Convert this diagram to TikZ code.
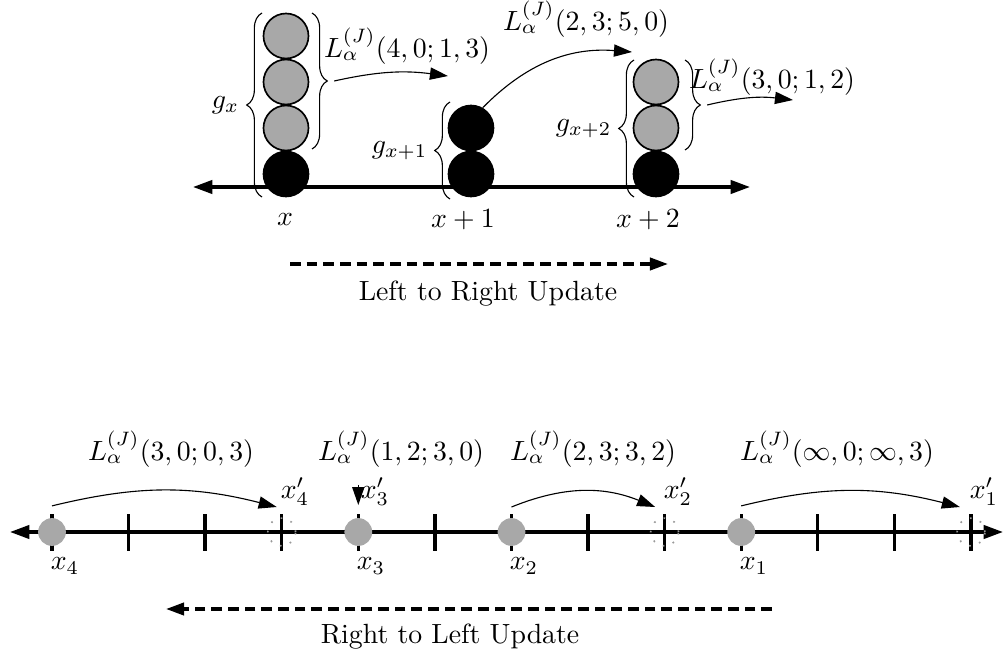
\documentclass[tikz,border=0pt]{standalone}
\usepackage{amsmath,amssymb}
\usetikzlibrary{arrows.meta, decorations.pathreplacing}

\begin{document}
\begin{tikzpicture}[
  x=0.36pt, y=-0.36pt,
  >={Triangle[length=6.5pt, width=4.4pt]},
  blk/.style={circle, draw=black, line width=0.6pt, fill=black, minimum size=16.2pt, inner sep=0pt},
  gry/.style={circle, draw=black, line width=0.6pt, fill=black!34, minimum size=16.2pt, inner sep=0pt},
  dot/.style={circle, fill=black!34, minimum size=10pt, inner sep=0pt},
  ghost/.style={circle, draw=black!40, line width=0.6pt, dash pattern=on 0.6pt off 3.2pt, minimum size=10pt, inner sep=0pt},
  axis/.style={{Triangle[length=7pt, width=4.8pt]}-{Triangle[length=7pt, width=4.8pt]}, line width=1.2pt},
  tck/.style={line width=1.2pt},
  brc/.style={decorate, decoration={brace, amplitude=5.5pt}, thin},
  crv/.style={->, thin},
  upd/.style={->, line width=1.2pt, dash pattern=on 3.8pt off 2.2pt},
  lbl/.style={inner sep=1pt},
]

\useasboundingbox (0,0) rectangle (1005,654);

% === Top: Left to Right Update ===

\coordinate (tl) at (193,187);
\coordinate (tr) at (750,187);
\draw[axis] (tl) -- (tr);

% column x
\node[blk] (a0) at (286,174) {};
\node[gry] (a1) at (286,128) {};
\node[gry] (a2) at (286,82) {};
\node[gry] (a3) at (286,36) {};
% column x+1
\node[blk] (b0) at (471,174) {};
\node[blk] (b1) at (471,128) {};
% column x+2
\node[blk] (c0) at (656,174) {};
\node[gry] (c1) at (656,128) {};
\node[gry] (c2) at (656,82) {};

\node[lbl] (xa) at (285,220) {$x$};
\node[lbl] (xb) at (463,220) {$x+1$};
\node[lbl] (xc) at (648,220) {$x+2$};

% braces
\draw[brc] (262,197) -- (262,13) node[midway, left=7pt, lbl] (ga) {$g_x$};
\draw[brc] (312,13) -- (312,149) coordinate[midway, right=8pt] (sa);
\draw[brc] (450,199) -- (450,102) node[midway, left=7pt, lbl] (gb) {$g_{x+1}$};
\draw[brc] (634,197) -- (634,60) node[midway, left=7pt, lbl] (gc) {$g_{x+2}$};
\draw[brc] (685,60) -- (685,150) coordinate[midway, right=8pt] (sc);

% moves
\coordinate (ea) at (448,76);
\coordinate (eb) at (632,52);
\coordinate (ec) at (793,100);
\draw[crv] (sa) to[bend left=10] (ea);
\draw[crv] (b1.60) to[bend left=25] (eb);
\draw[crv] (sc) to[bend left=10] (ec);

\node[lbl] (La) at (407,46) {$L_\alpha^{(J)}(4,0;1,3)$};
\node[lbl] (Lb) at (586,19) {$L_\alpha^{(J)}(2,3;5,0)$};
\node[lbl] (Lc) at (772,77) {$L_\alpha^{(J)}(3,0;1,2)$};

\coordinate (ua) at (290,264);
\coordinate (ub) at (668,264);
\draw[upd] (ua) -- (ub);
\node (lr) at (488,294) {Left to Right Update};

% === Bottom: Right to Left Update ===

\coordinate (bl) at (10,532);
\coordinate (br) at (1003,532);
\draw[axis] (bl) -- (br);

\foreach \k in {0,...,12}
  \draw[tck] ({52+76.58*\k},514) -- ({52+76.58*\k},551);

\node[dot] (p4) at (52,532) {};
\node[dot] (p3) at (358.3,532) {};
\node[dot] (p2) at (511.5,532) {};
\node[dot] (p1) at (741.2,532) {};
\node[ghost] (q4) at (281.7,532) {};
\node[ghost] (q2) at (664.6,532) {};
\node[ghost] (q1) at (971,532) {};

\node[lbl] (n4) at (65,566) {$x_4$};
\node[lbl] (n3) at (371,566) {$x_3$};
\node[lbl] (n2) at (524,566) {$x_2$};
\node[lbl] (n1) at (754,566) {$x_1$};
\node[lbl] (m4) at (295,492) {$x_4'$};
\node[lbl] (m3) at (375,492) {$x_3'$};
\node[lbl] (m2) at (678,492) {$x_2'$};
\node[lbl] (m1) at (984,492) {$x_1'$};

% moves
\draw[crv] ([yshift=9.4pt]p4.center) to[bend left=14] ([xshift=-1.8pt, yshift=9pt]q4.center);
\draw[crv] ([yshift=17pt]p3.center) -- ([yshift=9.7pt]p3.center);
\draw[crv] ([yshift=9pt]p2.center) to[bend left=22] ([xshift=-3.4pt, yshift=9pt]q2.center);
\draw[crv] ([yshift=9.4pt]p1.center) to[bend left=14] ([xshift=-4pt, yshift=9pt]q1.center);

\node[lbl] (L4) at (171,449) {$L_\alpha^{(J)}(3,0;0,3)$};
\node[lbl] (L3) at (401,449) {$L_\alpha^{(J)}(1,2;3,0)$};
\node[lbl] (L2) at (593,449) {$L_\alpha^{(J)}(2,3;3,2)$};
\node[lbl] (L1) at (837,449) {$L_\alpha^{(J)}(\infty,0;\infty,3)$};

\coordinate (va) at (772,609);
\coordinate (vb) at (166,609);
\draw[upd] (va) -- (vb);
\node (rl) at (450,637) {Right to Left Update};

\end{tikzpicture}
\end{document}
